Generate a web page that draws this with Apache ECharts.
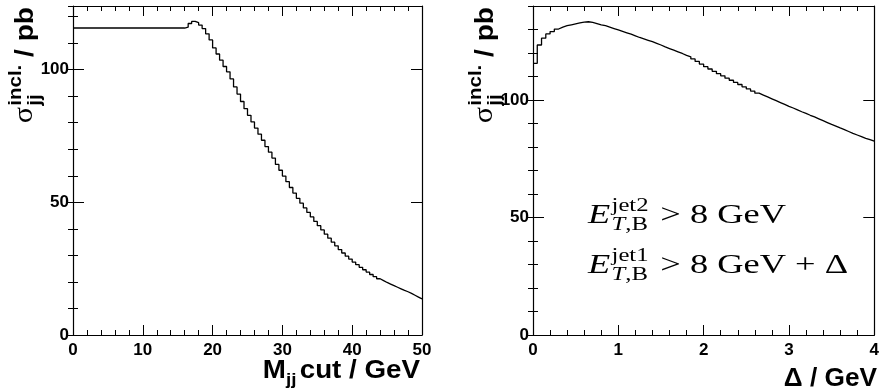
<!DOCTYPE html>
<html><head><meta charset="utf-8">
<script src="https://cdn.jsdelivr.net/npm/echarts@6/dist/echarts.min.js"></script>
<style>html,body{margin:0;padding:0;background:#fff}#c{width:882px;height:392px}</style>
</head><body><div id="c"></div>
<script>
// ---- data ----
const mjjBinWidth = 0.5;           // GeV, bins from 0 to 50
const mjjXsec = [
 115.7,115.7,115.7,115.7,115.7,115.7,115.7,115.7,115.7,115.7,
 115.7,115.7,115.7,115.7,115.7,115.7,115.7,115.7,115.7,115.7,
 115.7,115.7,115.7,115.7,115.7,115.7,115.7,115.7,115.7,115.7,
 115.7,115.7,116.0,117.4,118.2,117.7,116.8,115.5,113.5,111.2,
 108.2,105.9,103.6,101.2,99.2,96.5,93.5,90.8,88.0,85.3,
 82.8,80.3,78.0,75.7,73.4,71.0,68.9,66.7,64.3,62.1,
 59.9,57.8,55.6,53.5,51.5,49.7,47.9,46.2,44.5,42.8,
 41.2,39.6,38.0,36.5,35.0,33.6,32.2,30.9,29.7,28.6,
 27.5,26.5,25.5,24.6,23.7,22.8,22.0,21.2,20.5,19.8,
 19.2,18.6,18.0,17.4,16.8,16.3,15.7,15.0,14.3,13.6
];
const deltaBinWidth = 0.05;        // GeV, bins from 0 to 4
const deltaXsec = [
 115.6,123.4,126.3,128.1,129.1,130.2,131.0,131.6,132.0,132.4,
 132.8,133.1,133.3,133.0,132.5,132.0,131.6,131.0,130.4,129.8,
 129.2,128.6,128.0,127.3,126.6,126.0,125.4,124.8,124.1,123.4,
 122.6,121.9,121.2,120.5,119.8,119.0,118.4,117.5,116.4,115.3,
 114.2,113.2,112.2,111.2,110.3,109.3,108.4,107.5,106.6,105.6,
 104.7,103.8,102.9,102.1,101.3,100.5,99.7,98.9,98.1,97.3,
 96.6,95.8,95.0,94.3,93.5,92.8,92.0,91.2,90.4,89.6,
 88.9,88.1,87.4,86.6,85.8,85.1,84.4,83.7,83.1,82.5
];
const mjjRange = [0, 50];
const deltaRange = [0, 4];
const leftYRange = [0, 124];
const rightYRange = [0, 140];

// ---- helpers ----
function histPoints(vals, w){
  const pts = vals.map((v,i)=>[i*w, v]);
  pts.push([vals.length*w, vals[vals.length-1]]);
  return pts;
}
const SANS = 'Liberation Sans, Arial, Helvetica, sans-serif';
const SERIF = 'Liberation Serif, Times New Roman, serif';
const lab = {color:'#000', fontFamily:SANS, fontWeight:'bold', fontSize:17};
const axLine = {show:true, onZero:false, lineStyle:{color:'#000', width:1.2}};
function xPair(grid, range, interval){
  const base = {type:'value', gridIndex:grid, min:range[0], max:range[1], interval:interval,
    axisLine:axLine, splitLine:{show:false},
    axisTick:{show:true, inside:true, length:10, lineStyle:{color:'#000', width:1}},
    minorTick:{show:true, splitNumber:5, length:5, lineStyle:{color:'#000', width:1}}};
  return [
    Object.assign({}, base, {position:'bottom', axisLabel:Object.assign({show:true, margin:7, showMaxLabel:true,
      hideOverlap:false, alignMaxLabel:'center', alignMinLabel:'center'}, lab)}),
    Object.assign({}, base, {position:'top', axisLabel:{show:false}})
  ];
}
function yQuad(grid, range){
  const mk = (pos, major) => ({type:'value', gridIndex:grid, min:range[0], max:range[1],
    interval: major ? 50 : 10, position:pos, splitLine:{show:false},
    axisLine: major ? axLine : {show:false},
    axisTick:{show:true, inside:true, length: major ? 11 : 5, lineStyle:{color:'#000', width:1}},
    axisLabel: (major && pos==='left') ? Object.assign({show:true, margin:4, showMaxLabel:false}, lab) : {show:false}});
  return [mk('left',true), mk('left',false), mk('right',true), mk('right',false)];
}
const ctx = document.createElement('canvas').getContext('2d');
function tw(text, font){ ctx.font = font; return ctx.measureText(text).width; }
function fnt(weight, style, size, fam){ return style+' '+weight+' '+size+'px '+fam; }
function T(x, yb, text, font, size){
  return {type:'text', x:x, y:yb - 0.33*size, silent:true,
    style:{text:text, font:font, fill:'#000', align:'left', verticalAlign:'middle'}};
}
// lay out tokens left to right (local coordinates)
function layout(tokens, x0, yb){
  const els = []; let x = x0;
  tokens.forEach(tok => {
    if (tok.stack){
      let wmax = 0;
      tok.stack.forEach(row => {
        let xx = x;
        row.parts.forEach(p => {
          const f = fnt(p.w||'normal', p.s||'normal', p.size, p.fam);
          els.push(T(xx, yb + row.dy, p.t, f, p.size));
          xx += tw(p.t, f);
        });
        wmax = Math.max(wmax, xx - x);
      });
      x += wmax + (tok.gap||0);
    } else {
      const f = fnt(tok.w||'normal', tok.s||'normal', tok.size, tok.fam);
      els.push(T(x, yb + (tok.dy||0), tok.t, f, tok.size));
      x += tw(tok.t, f) + (tok.gap||0);
    }
  });
  return {els:els, width:x - x0};
}
// group whose text ends at (xEnd, yb), stretched horizontally by sx
function endGroup(tokens, xEnd, yb, sx, rot){
  const w = layout(tokens, 0, 0).width;
  return {type:'group', x:xEnd, y:yb, scaleX:sx, rotation:rot||0, children:layout(tokens, -w, 0).els};
}
function yTitleTokens(){
  return [
    {t:'σ', size:28, fam:SERIF, gap:1},
    {stack:[{dy:-12, parts:[{t:'incl.', size:19, w:'bold', fam:SANS}]},
            {dy:7, parts:[{t:'jj', size:19, w:'bold', fam:SANS}]}]},
    {t:' / pb', size:26, w:'bold', fam:SANS}
  ];
}
function annotLine(sup, rest, x, yb, sx){
  return {type:'group', x:x, y:yb, scaleX:sx, children: layout([
    {t:'E', size:28, s:'italic', fam:SERIF, gap:1},
    {stack:[{dy:-13, parts:[{t:sup, size:19, fam:SERIF}]},
            {dy:6, parts:[{t:'T', size:19, s:'italic', fam:SERIF},{t:',B', size:19, fam:SERIF}]}], gap:2},
    {t:rest, size:28, fam:SERIF}
  ], 0, 0).els};
}

const chart = echarts.init(document.getElementById('c'), null, {renderer:'canvas'});
chart.setOption({
  animation:false,
  backgroundColor:'#fff',
  grid:[{left:73, top:6, width:349, height:329}, {left:533, top:6, width:349, height:329}],
  xAxis: xPair(0, mjjRange, 10).concat(xPair(1, deltaRange, 1)),
  yAxis: yQuad(0, leftYRange).concat(yQuad(1, rightYRange)),
  series:[
    {type:'line', xAxisIndex:0, yAxisIndex:0, data:histPoints(mjjXsec, mjjBinWidth), step:'end',
     symbol:'none', lineStyle:{color:'#000', width:1.3}},
    {type:'line', xAxisIndex:2, yAxisIndex:4, data:histPoints(deltaXsec, deltaBinWidth), step:'end',
     symbol:'none', lineStyle:{color:'#000', width:1.3}}
  ],
  graphic: [
    endGroup(yTitleTokens(), 34, 7, 1.08, Math.PI/2),
    endGroup(yTitleTokens(), 494, 7, 1.08, Math.PI/2),
    endGroup([{t:'M', size:25, w:'bold', fam:SANS},
              {t:'jj', size:17, w:'bold', fam:SANS, dy:7, gap:3},
              {t:'cut / GeV', size:25, w:'bold', fam:SANS}], 420, 379, 1.11),
    endGroup([{t:'Δ / GeV', size:25, w:'bold', fam:SANS}], 877, 387, 1.05),
    annotLine('jet2', ' > 8 GeV', 588, 225, 1.3),
    annotLine('jet1', ' > 8 GeV + Δ', 588, 275, 1.3)
  ]
});
</script></body></html>
